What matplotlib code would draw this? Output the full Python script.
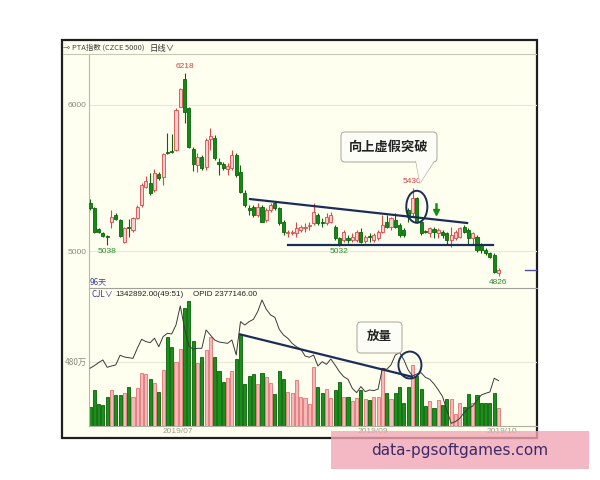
import matplotlib
matplotlib.use('Agg')
import matplotlib.pyplot as plt
from matplotlib.patches import Rectangle, Ellipse, FancyBboxPatch, Polygon
from matplotlib.lines import Line2D
from matplotlib.transforms import Affine2D

# daily candles, PTA index
opens = [5331, 5292, 5151, 5126, 5103, 5201, 5247, 5213, 5064, 5167, 5144, 5224, 5315, 5441, 5468, 5418,
         5528, 5509, 5680, 5685, 5692, 5989, 6176, 5977, 5700, 5589, 5646, 5578, 5765, 5772, 5612, 5594,
         5560, 5566, 5658, 5544, 5395, 5292, 5304, 5247, 5304, 5213, 5281, 5327, 5292, 5201, 5121, 5121,
         5121, 5144, 5160, 5171, 5190, 5247, 5201, 5190, 5201, 5167, 5087, 5075, 5087, 5075, 5075, 5133,
         5069, 5103, 5075, 5087, 5133, 5201, 5167, 5212, 5178, 5144, 5281, 5258, 5361, 5201, 5137, 5121,
         5148, 5121, 5133, 5121, 5075, 5087, 5098, 5167, 5144, 5087, 5098, 5041, 5007, 4984, 4973, 4847]
highs = [5354, 5304, 5160, 5133, 5110, 5281, 5258, 5217, 5167, 5217, 5235, 5315, 5464, 5514, 5532, 5560,
         5544, 5674, 5806, 5802, 5977, 6114, 6218, 5989, 5715, 5669, 5658, 5772, 5840, 5795, 5635, 5612,
         5601, 5692, 5669, 5589, 5418, 5315, 5315, 5327, 5315, 5292, 5327, 5338, 5304, 5213, 5144, 5144,
         5201, 5178, 5190, 5201, 5327, 5258, 5224, 5258, 5270, 5178, 5098, 5144, 5110, 5121, 5144, 5155,
         5110, 5121, 5121, 5144, 5247, 5247, 5235, 5258, 5190, 5155, 5292, 5430, 5372, 5212, 5144, 5167,
         5167, 5155, 5144, 5133, 5167, 5144, 5167, 5178, 5155, 5133, 5110, 5053, 5018, 4996, 4984, 4881]
lows = [5281, 5126, 5121, 5098, 5038, 5155, 5213, 5098, 5057, 5098, 5133, 5217, 5304, 5429, 5384, 5407,
        5486, 5452, 5664, 5674, 5687, 5984, 5875, 5703, 5545, 5544, 5555, 5555, 5692, 5623, 5521, 5555,
        5521, 5555, 5509, 5395, 5304, 5247, 5235, 5235, 5197, 5201, 5270, 5281, 5178, 5110, 5098, 5110,
        5098, 5133, 5133, 5144, 5178, 5178, 5167, 5178, 5190, 5075, 5032, 5064, 5053, 5064, 5064, 5053,
        5057, 5064, 5064, 5075, 5121, 5155, 5144, 5155, 5098, 5098, 5201, 5235, 5194, 5110, 5121, 5098,
        5087, 5087, 5087, 5041, 5030, 5075, 5087, 5121, 5041, 5041, 4996, 4984, 4973, 4950, 4847, 4826]
closes = [5292, 5133, 5128, 5105, 5096, 5235, 5217, 5103, 5155, 5155, 5224, 5304, 5452, 5482, 5400, 5532,
          5498, 5664, 5669, 5676, 5966, 6107, 5954, 5715, 5595, 5646, 5566, 5760, 5788, 5635, 5596, 5566,
          5582, 5658, 5521, 5407, 5315, 5281, 5247, 5304, 5201, 5281, 5313, 5292, 5190, 5133, 5133, 5133,
          5155, 5167, 5167, 5178, 5270, 5190, 5190, 5235, 5247, 5087, 5041, 5133, 5075, 5098, 5133, 5064,
          5098, 5094, 5110, 5133, 5178, 5167, 5224, 5167, 5110, 5110, 5235, 5361, 5201, 5121, 5128, 5155,
          5133, 5144, 5110, 5075, 5110, 5133, 5155, 5133, 5087, 5121, 5007, 5007, 4984, 4961, 4859, 4870]
# volume (万) and open interest line
vols = [144, 269, 162, 157, 219, 269, 232, 232, 244, 289, 214, 281, 398, 388, 348, 324, 256, 418, 662, 592,
        480, 572, 878, 936, 635, 468, 513, 567, 662, 518, 413, 331, 356, 413, 498, 679, 314, 376, 388, 314,
        393, 368, 324, 239, 413, 348, 256, 244, 343,
        214, 207, 164, 438, 294, 244, 274, 207, 269, 329, 214, 214, 189, 207, 269, 199, 194, 219, 214, 431,
        249, 199, 249, 289, 174, 289, 455, 376, 274, 149, 189, 137, 194, 157, 199, 199, 90, 169, 139, 236,
        169, 232, 174, 174, 174, 244, 137]
oi = [431, 450, 473, 493, 438, 448, 456, 528, 515, 510, 505, 580, 647, 630, 622, 655, 592, 667, 692, 687,
      754, 896, 729, 597, 572, 580, 580, 717, 679, 642, 627, 622, 617, 642, 530, 779, 754, 779, 796, 854,
      941, 871, 829, 811, 722, 679, 655, 617, 592,
      575, 523, 513, 530, 448, 480, 460, 500, 455, 406, 368, 349, 281, 249, 294, 256, 269, 264, 276, 431,
      423, 456, 530, 548, 493, 418, 373, 388, 398, 363, 349, 314, 269, 219, 115, 20, 33, 57, 100, 132,
      149, 194, 232, 244, 254, 356, 339]
date_ticks = [20.5, 65.8, 95.8]
date_labels = ['2019/07', '2019/09', '2019/10']

# hand-drawn lines on the chart
upper_line = ([37.2, 87.7], [5356, 5192])
lower_line = ([46, 93.7], [5038, 5038])
vol_line = ([34.9, 74.8], [684, 368])

CJK = ['Noto Sans CJK SC', 'DejaVu Sans']
NUM = 'Liberation Sans'
NAVY = '#1c2d5a'

W, H = 600, 480
fig = plt.figure(figsize=(6, 4.8), dpi=100)
fig.patch.set_facecolor('white')
px = Affine2D().scale(1 / W, -1 / H).translate(0, 1) + fig.transFigure


def box(l, t, r, b):
    return [l / W, 1 - b / H, (r - l) / W, (b - t) / H]


fig.patches.append(Rectangle((62, 40), 475, 398, transform=px, facecolor='#fffff0',
                             edgecolor='#1e1e1e', lw=1.6, zorder=-5))
fig.add_artist(Line2D([63, 536], [53.5, 53.5], transform=px, color='#c8c8b8', lw=0.8))

# header texts
fig.text(63, 48, '⊸', transform=px, fontsize=6, color='#555', va='center', family=CJK)
fig.text(72, 48, 'PTA指数 (CZCE 5000)', transform=px, fontsize=5.4, color='#444', va='center', family=CJK)
fig.text(150, 48, '日线∨', transform=px, fontsize=6, color='#333', va='center', family=CJK)

up = [c >= o for o, c in zip(opens, closes)]
xs = list(range(len(opens)))
face = ['#f8cfcf' if u else '#138a13' for u in up]
edge = ['#d94848' if u else '#0a650a' for u in up]

# price panel
ax1 = fig.add_axes(box(89, 54, 537, 288))
ax1.set_facecolor('none')
ax1.set_xlim(-0.23, 103.95)
ax1.set_ylim(4747, 6349)
for g in (5000, 6000):
    ax1.axhline(g, color='#e8e8d4', lw=0.8, zorder=0)
ax1.vlines(xs, lows, highs, colors=edge, lw=0.8, zorder=2)
bottoms = [min(o, c) for o, c in zip(opens, closes)]
heights = [max(abs(c - o), 6) for o, c in zip(opens, closes)]
ax1.bar(xs, heights, bottom=bottoms, width=0.72, color=face, edgecolor=edge, lw=0.6, zorder=3)

ax1.plot(*upper_line, color=NAVY, lw=1.6, zorder=4)
ax1.plot(*lower_line, color=NAVY, lw=1.6, zorder=4)
ax1.add_patch(Ellipse((76.0, 5303), 4.9, 219, fill=False, ec=NAVY, lw=1.4, zorder=5))
# small green "down" arrow
ax1.plot([80.5, 80.5], [5320, 5275], color='#1a8a1a', lw=1.8, zorder=5)
ax1.plot([80.5], [5268], marker='v', ms=5, color='#1a8a1a', zorder=5)
ax1.plot([101.2, 103.95], [closes[-1], closes[-1]], color='#5050b0', lw=1)

hi_i = highs.index(max(highs))
ax1.annotate(str(max(highs)), (hi_i, max(highs)), xytext=(0, 2.5), textcoords='offset points',
             ha='center', va='bottom', fontsize=6, color='#d04040', family=NUM)
ax1.annotate('5430', (75, highs[75]), xytext=(0, 2.5), textcoords='offset points',
             ha='center', va='bottom', fontsize=6, color='#d04040', family=NUM)
for i in (4, 58, 95):
    ax1.annotate(str(lows[i]), (i, lows[i]), xytext=(0, -1.5), textcoords='offset points',
                 ha='center', va='top', fontsize=6, color='#2a8a2a', family=NUM)

ax1.set_xticks([])
ax1.set_yticks([5000, 6000])
ax1.set_yticklabels(['5000', '6000'], fontsize=6, color='#8a8a7a', family=NUM)
ax1.tick_params(axis='y', length=0, pad=1.5)
for s in ('top', 'right'):
    ax1.spines[s].set_visible(False)
ax1.spines['left'].set_color('#b8b8a8')
ax1.spines['left'].set_linewidth(0.8)
ax1.spines['bottom'].set_color('#a0a098')
ax1.spines['bottom'].set_linewidth(0.8)
fig.text(90, 282, '96天', transform=px, fontsize=5.8, color='#4040a0', va='center', family=CJK)

# volume panel
ax2 = fig.add_axes(box(89, 288, 537, 426))
ax2.set_facecolor('none')
ax2.set_xlim(-0.23, 103.95)
ax2.set_ylim(0, 1030)
ax2.axhline(480, color='#e8e8d4', lw=0.8, zorder=0)
vface = ['#f6b9b9' if u else '#169216' for u in up]
vedge = ['#e07272' if u else '#0b5e0b' for u in up]
ax2.bar(xs, vols, width=0.72, color=vface, edgecolor=vedge, lw=0.6, zorder=2)
ax2.plot(xs, oi, color='#3a3a3a', lw=0.7, zorder=3)
ax2.plot(*vol_line, color=NAVY, lw=1.6, zorder=4)
ax2.add_patch(Ellipse((74.4, 455), 5.35, 201, fill=False, ec=NAVY, lw=1.4, zorder=5))

ax2.set_yticks([480])
ax2.set_yticklabels(['480万'], fontsize=6, color='#8a8a7a', family=CJK)
ax2.set_xticks(date_ticks)
ax2.set_xticklabels(date_labels, fontsize=6, color='#9a9a8a', family=NUM)
ax2.tick_params(length=0, pad=1.5)
for s in ('top', 'right'):
    ax2.spines[s].set_visible(False)
ax2.spines['left'].set_color('#b8b8a8')
ax2.spines['left'].set_linewidth(0.8)
ax2.spines['bottom'].set_color('#b0b0a0')
ax2.spines['bottom'].set_linewidth(0.8)

fig.text(92, 294, 'CJL∨', transform=px, fontsize=5.8, color='#3030a0', va='center', family=CJK)
fig.text(115, 294, '1342892.00(49:51)', transform=px, fontsize=5.8, color='#222', va='center', family=NUM)
fig.text(193, 294, 'OPID 2377146.00', transform=px, fontsize=5.8, color='#222', va='center', family=NUM)

# callouts
fig.patches.append(FancyBboxPatch((341, 132), 96, 30, boxstyle='round,pad=0,rounding_size=4', transform=px,
                                  fc='#fdfdf8', ec='#b0b0a0', lw=0.8, zorder=6))
fig.patches.append(Polygon([(416, 161), (434, 161), (420, 183)], closed=True, transform=px,
                           fc='#fdfdf8', ec='none', zorder=7))
fig.add_artist(Line2D([416, 420, 434], [161.5, 183, 161.5], transform=px, color='#b0b0a0', lw=0.8, zorder=7))
fig.text(389, 147, '向上虚假突破', transform=px, fontsize=9.5, weight='bold', color='#222',
         ha='center', va='center', family=CJK, zorder=8)

fig.patches.append(FancyBboxPatch((357, 322), 45, 31, boxstyle='round,pad=0,rounding_size=4', transform=px,
                                  fc='#fdfdf8', ec='#b0b0a0', lw=0.8, zorder=6))
fig.text(379.5, 337.5, '放量', transform=px, fontsize=9, weight='bold', color='#222',
         ha='center', va='center', family=CJK, zorder=8)

# watermark strip
fig.patches.append(Rectangle((331, 431), 258, 38, transform=px, fc='#f1a6b4', ec='none', alpha=0.8, zorder=10))
fig.text(460, 450, 'data-pgsoftgames.com', transform=px, fontsize=11, color='#3a2a6a',
         ha='center', va='center', family='DejaVu Sans', zorder=11)

fig.savefig('out.png', dpi=100)
